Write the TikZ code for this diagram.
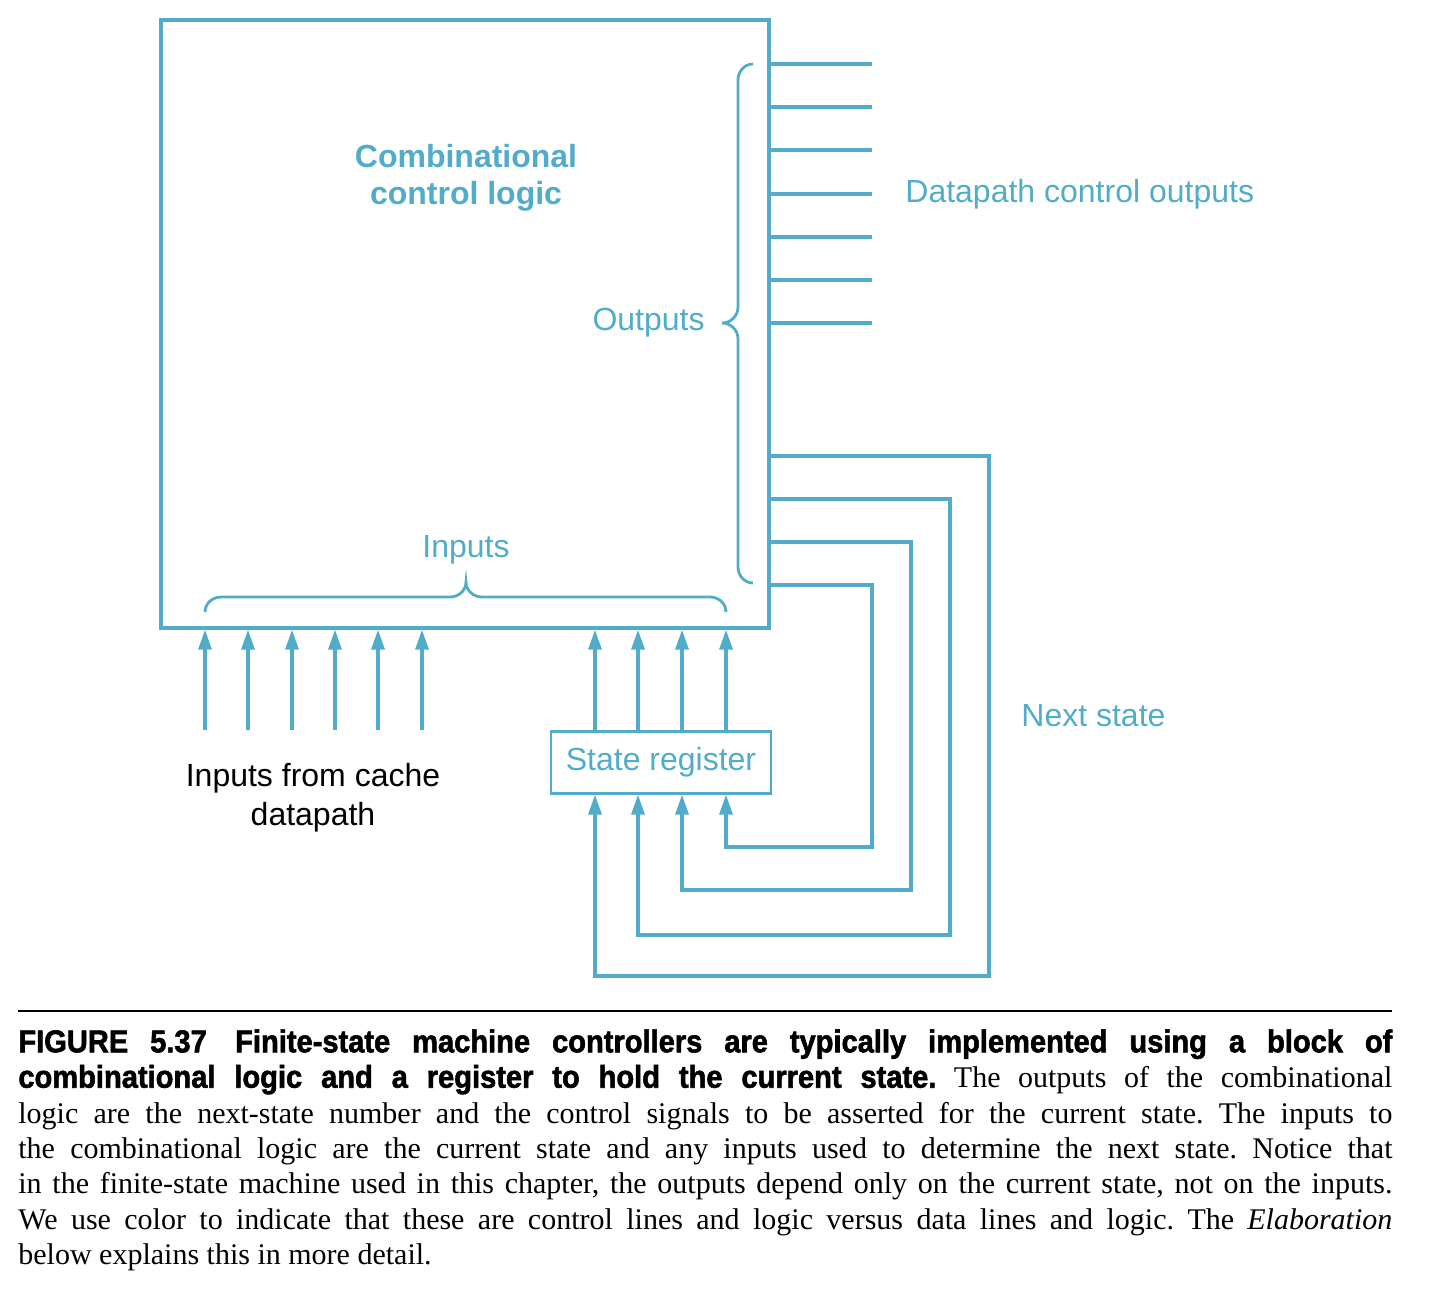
\documentclass[tikz,border=0pt]{standalone}
\usepackage{fontspec}
\setmainfont{Liberation Serif}
\setsansfont{Liberation Sans}
\newfontfamily\capfont{Liberation Sans Bold}[FakeStretch=0.92,FakeBold=1.8]
\usetikzlibrary{arrows.meta}
\definecolor{ctrlblue}{RGB}{80,172,200}

\begin{document}
\frenchspacing
\begin{tikzpicture}[x=0.5pt,y=-0.5pt,line join=miter,
  wire/.style={ctrlblue,line width=1.6pt},
  sig/.style={wire,-{Triangle[length=10pt,width=6.5pt]}},
  lbl/.style={ctrlblue,font=\sffamily\fontsize{16}{19.5}\selectfont}]
  \useasboundingbox (0,0) rectangle (1434,1296);
  % 组合控制逻辑
  \node[draw=ctrlblue,line width=1.6pt,minimum width=304pt,minimum height=304pt,inner sep=0pt] (logic) at (465,324) {};
  \node[lbl,font=\sffamily\bfseries\fontsize{16}{18.5}\selectfont,align=center] (title) at (466,178) {Combinational\\control logic};
  % 输出
  \foreach \y [count=\i] in {64,107,150,194,237,280,323} {
    \coordinate (o\i) at (872,\y);
    \draw[wire] (logic.east |- o\i) -- (o\i);
  }
  \draw[wire,line width=1.4pt] (753,64) to[out=180,in=90] (738,80) -- (738,307) to[out=-90,in=0] (722,323)
    to[out=0,in=90] (738,339) -- (738,567) to[out=-90,in=180] (753,583);
  \node[lbl,anchor=east,inner sep=0pt] (outs) at (705,323) {Outputs};
  \node[lbl,anchor=west,inner sep=0pt] (dpout) at (905,194) {Datapath control outputs};
  % 状态寄存器
  \node[draw=ctrlblue,line width=1.1pt,minimum width=110pt,minimum height=31pt,inner sep=0pt,lbl] (reg) at (661,762.5) {State register};
  \foreach \x in {595,638,682,726}
    \draw[sig] (reg.north -| \x,0) -- (logic.south -| \x,0);
  % 次态反馈
  \foreach \y/\xr/\yb/\xa [count=\i] in {456/989/976/595,499/950/935/638,542/911/890/682,585/872/847/726} {
    \coordinate (ns\i) at (\xa,\yb);
    \draw[sig] (logic.east |- 0,\y) -| (\xr,\yb) -- (ns\i) -- (reg.south -| ns\i);
  }
  \node[lbl,anchor=west,inner sep=0pt] (next) at (1021,716) {Next state};
  % 来自cache数据通路的输入
  \foreach \x [count=\i] in {205,248,292,335,378,422} {
    \coordinate (in\i) at (\x,730);
    \draw[sig] (in\i) -- (logic.south -| in\i);
  }
  \draw[wire,line width=1.4pt] (205,612) to[out=90,in=180] (221,597) -- (450,597) to[out=0,in=-90] (466,582)
    to[out=-90,in=180] (482,597) -- (710,597) to[out=0,in=90] (726,612);
  \node[lbl] (ins) at (466,550) {Inputs};
  \node[font=\sffamily\fontsize{16}{19.5}\selectfont,align=center] (cache) at (313,798) {Inputs from cache\\datapath};
  % 图注
  \draw[line width=1pt] (18,1011) -- (1392,1011);
  \node[anchor=north west,inner sep=0pt,text width=687pt,align=justify,font=\fontsize{15}{17.7}\selectfont] (caption) at (18,1029)
    {{\capfont\fontsize{15.8}{17.7}\selectfont FIGURE~5.37\hspace{0.9em}Finite-state machine controllers are typically implemented using a block of\linebreak
    combinational logic and a register to hold the current state.} The outputs of the combinational\linebreak
    logic are the next-state number and the control signals to be asserted for the current state. The inputs to\linebreak
    the combinational logic are the current state and any inputs used to determine the next state. Notice that\linebreak
    in the finite-state machine used in this chapter, the outputs depend only on the current state, not on the inputs.\linebreak
    We use color to indicate that these are control lines and logic versus data lines and logic. The \emph{Elaboration}\linebreak
    below explains this in more detail.};
\end{tikzpicture}
\end{document}
